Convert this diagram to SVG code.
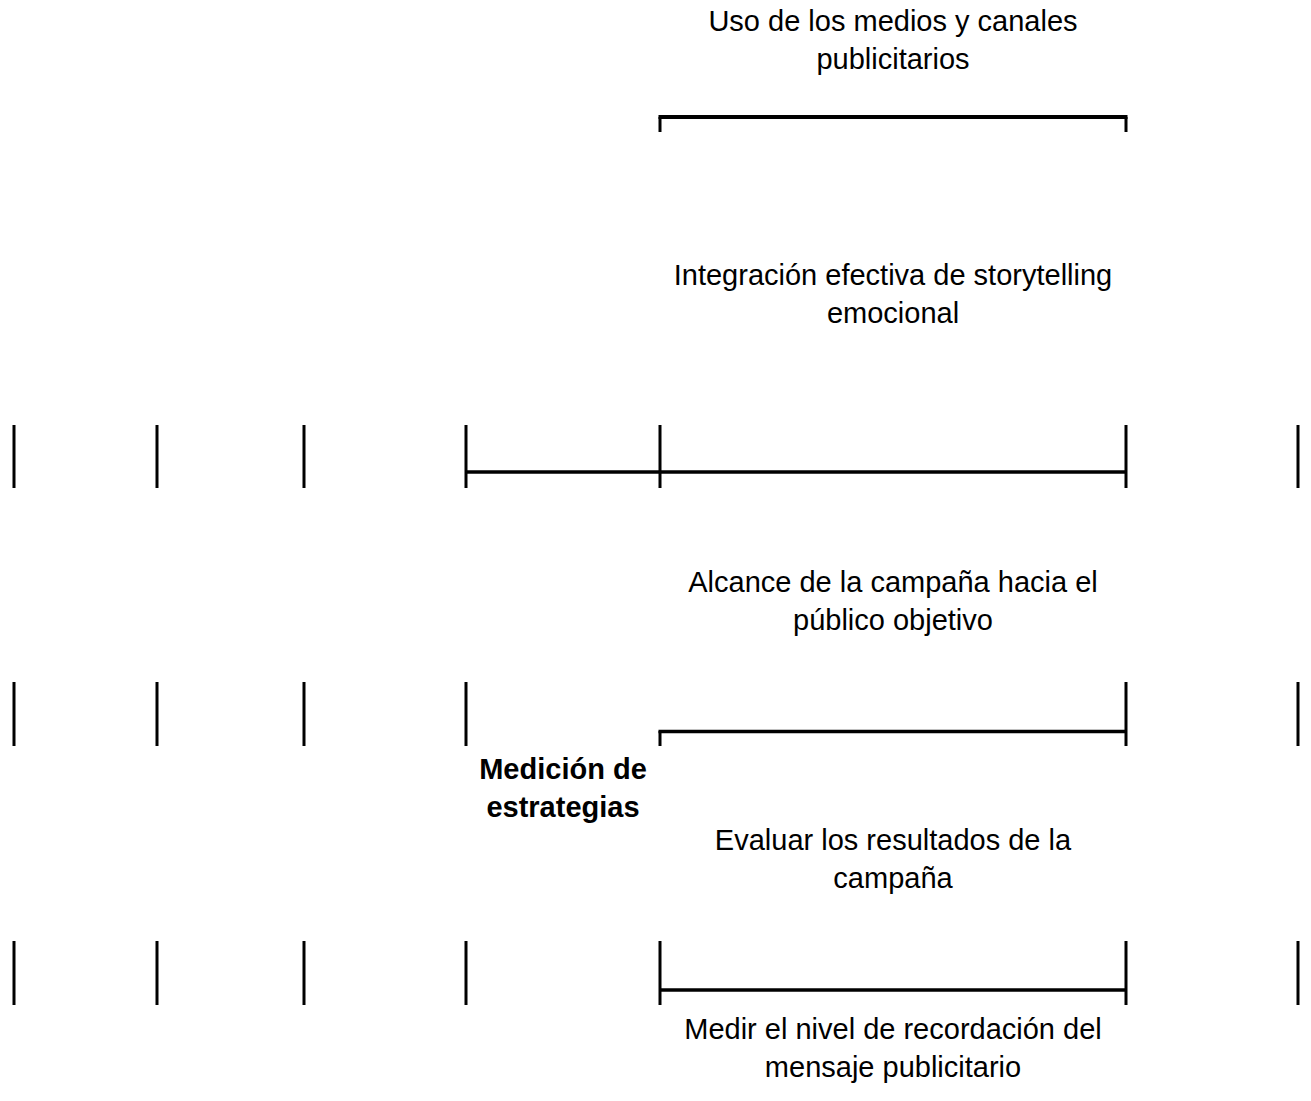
<svg xmlns="http://www.w3.org/2000/svg" width="1311" height="1101" viewBox="0 0 1311 1101">
<style>
.t{font-family:"Liberation Sans",Arial,sans-serif;font-size:29px;fill:#000;text-anchor:middle}
.b{font-weight:bold}
.v{stroke:#000;stroke-width:3;fill:none}
.h{stroke:#000;stroke-width:3.5;fill:none}
</style>
<rect width="1311" height="1101" fill="#fff"/>
<g id="connectors">
<path class="v" d="M660 132V117M1126 132V117"/>
<path class="h" d="M658.5 117H1127.5" style="stroke-width:4"/>
<g id="row1">
<path class="v" d="M14 425V488M157 425V488M304 425V488M466 425V488M660 425V488M1126 425V488M1298 425V488"/>
<path class="h" d="M466 472H1126"/>
</g>
<g id="row2">
<path class="v" d="M14 682V746M157 682V746M304 682V746M466 682V746M1126 682V746M1298 682V746M660 731V746"/>
<path class="h" d="M658.5 731.5H1126"/>
</g>
<g id="row3">
<path class="v" d="M14 941V1005M157 941V1005M304 941V1005M466 941V1005M660 941V1005M1126 941V1005M1298 941V1005"/>
<path class="h" d="M660 990H1126"/>
</g>
</g>
<g id="n1"><text class="t" x="893" y="31">Uso de los medios y canales</text><text class="t" x="893" y="69">publicitarios</text></g>
<g id="n2"><text class="t" x="893" y="285">Integración efectiva de storytelling</text><text class="t" x="893" y="323">emocional</text></g>
<g id="n3"><text class="t" x="893" y="592">Alcance de la campaña hacia el</text><text class="t" x="893" y="630">público objetivo</text></g>
<g id="n4"><text class="t b" x="563" y="779">Medición de</text><text class="t b" x="563" y="817">estrategias</text></g>
<g id="n5"><text class="t" x="893" y="850">Evaluar los resultados de la</text><text class="t" x="893" y="888">campaña</text></g>
<g id="n6"><text class="t" x="893" y="1039">Medir el nivel de recordación del</text><text class="t" x="893" y="1077">mensaje publicitario</text></g>
</svg>
